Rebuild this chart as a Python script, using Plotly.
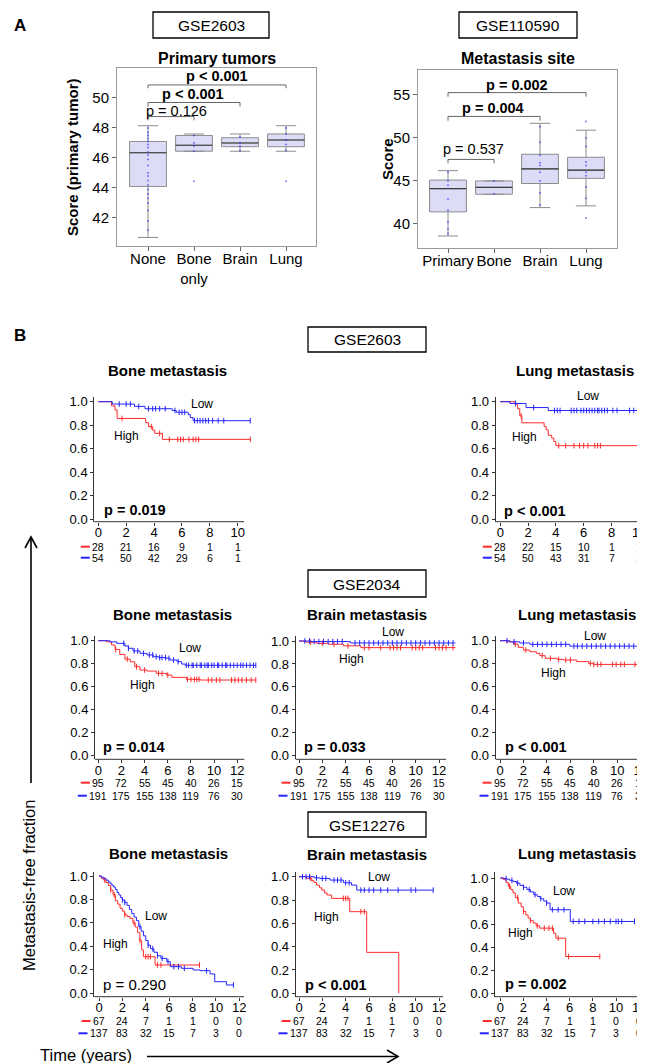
import plotly.graph_objects as go

# The page body adds an 8px margin; the figure is sized so that it fills the 645x1063 window.
OFF = 8
W, H = 645 - OFF, 1063 - OFF
FONT = "Liberation Sans, Arial, Helvetica, sans-serif"
RED = "#ff2a2a"
BLUE = "#2424ff"

# ======================= DATA =======================
# ---- Panel A, left: GSE2603 primary tumors ----
a1_labels = ["None", "Bone<br>only", "Brain", "Lung"]
a1_q1 = [44.1, 46.45, 46.75, 46.75]
a1_median = [46.35, 46.85, 47.0, 47.2]
a1_q3 = [47.1, 47.5, 47.35, 47.6]
a1_low = [40.7, 46.45, 46.45, 46.45]
a1_high = [48.15, 47.6, 47.6, 48.15]
a1_points = [
    [48.0, 47.7, 47.5, 47.3, 47.1, 46.9, 46.7, 46.4, 46.2, 45.9, 45.5, 45.0, 44.8,
     44.5, 44.2, 43.9, 43.6, 43.3, 43.0, 42.5, 41.8, 41.2],
    [47.5, 47.0, 46.8, 46.45, 44.45],
    [47.4, 47.0, 46.8, 46.5],
    [48.0, 47.6, 47.2, 46.9, 46.5, 44.45],
]
a1_tests = [(0, 1, "p = 0.126", False), (0, 2, "p < 0.001", True), (0, 3, "p < 0.001", True)]

# ---- Panel A, right: GSE110590 metastasis site ----
a2_labels = ["Primary", "Bone", "Brain", "Lung"]
a2_q1 = [41.4, 43.45, 44.7, 45.3]
a2_median = [44.1, 44.25, 46.4, 46.25]
a2_q3 = [45.1, 45.0, 48.1, 47.75]
a2_low = [38.6, 43.45, 41.9, 42.1]
a2_high = [46.2, 45.0, 51.7, 50.9]
a2_points = [
    [46.0, 45.0, 44.5, 42.9, 41.6, 40.2, 39.4, 38.9],
    [45.0, 43.5],
    [51.3, 49.5, 48.0, 47.1, 46.8, 46.0, 45.0, 43.6, 42.2],
    [51.9, 50.0, 49.0, 47.2, 46.8, 46.0, 45.6, 44.3, 43.0, 40.7],
]
a2_tests = [(0, 1, "p = 0.537", False), (0, 2, "p = 0.004", True), (0, 3, "p = 0.002", True)]

# ---- Panel B: Kaplan-Meier curves (time in years, metastasis-free fraction) ----
# GSE2603 bone
g2603_bone_low_t = [0, 1.0, 2.6, 3.35, 5.3, 5.6, 6.45, 6.6, 6.8, 10.9]
g2603_bone_low_s = [1.0, 0.98, 0.96, 0.94, 0.925, 0.91, 0.89, 0.865, 0.838, 0.838]
g2603_bone_high_t = [0, 0.95, 1.2, 1.35, 3.4, 3.6, 3.9, 4.05, 4.6, 10.9]
g2603_bone_high_s = [1.0, 0.964, 0.93, 0.857, 0.821, 0.787, 0.757, 0.73, 0.679, 0.679]
g2603_bone_low_cens = [1.5, 2.0, 2.3, 2.9, 3.6, 3.9, 4.1, 4.4, 4.8, 5.5, 5.8, 6.0, 6.2,
                       6.9, 7.1, 7.3, 7.5, 7.7, 7.9, 8.2, 8.6, 9.0, 10.9]
g2603_bone_high_cens = [1.7, 3.8, 4.4, 5.1, 5.7, 5.9, 6.1, 6.5, 6.8, 7.0, 7.2, 10.9]
g2603_bone_risk_high = [28, 21, 16, 9, 1, 1]
g2603_bone_risk_low = [54, 50, 42, 29, 6, 1]

# GSE2603 lung
g2603_lung_low_t = [0, 0.7, 1.85, 3.45, 11.0]
g2603_lung_low_s = [1.0, 0.985, 0.95, 0.925, 0.925]
g2603_lung_high_t = [0, 1.05, 1.25, 1.4, 1.55, 3.15, 3.3, 3.45, 3.7, 3.85, 4.0, 11.0]
g2603_lung_high_s = [1.0, 0.98, 0.94, 0.88, 0.82, 0.79, 0.76, 0.714, 0.69, 0.66, 0.625, 0.625]
g2603_lung_low_cens = [1.1, 2.4, 3.9, 4.1, 4.3, 5.1, 5.3, 5.5, 5.8, 6.0, 6.2, 6.4, 6.6,
                       6.8, 7.0, 7.1, 7.3, 7.5, 7.7, 8.1, 8.4, 9.3, 9.6]
g2603_lung_high_cens = [1.5, 4.2, 4.7, 5.3, 5.7, 6.0, 6.3, 6.8, 7.0, 7.2]
g2603_lung_risk_high = [28, 22, 15, 10, 1, 1]
g2603_lung_risk_low = [54, 50, 43, 31, 7, 1]

# GSE2034 bone
g2034_bone_low_t = [0, 1.0, 1.6, 2.3, 2.6, 3.0, 3.6, 4.2, 4.75, 5.2, 5.9, 6.2, 6.8, 7.2, 7.5, 13.6]
g2034_bone_low_s = [1.0, 0.99, 0.977, 0.954, 0.934, 0.911, 0.89, 0.876, 0.861, 0.853, 0.847,
                    0.832, 0.818, 0.797, 0.786, 0.786]
g2034_bone_high_t = [0, 0.7, 1.15, 1.45, 1.85, 2.3, 2.75, 3.15, 3.6, 4.2, 5.0, 5.9, 6.35, 7.6, 8.8, 13.6]
g2034_bone_high_s = [1.0, 0.99, 0.962, 0.924, 0.881, 0.84, 0.817, 0.774, 0.745, 0.736, 0.716,
                     0.701, 0.681, 0.664, 0.658, 0.658]
g2034_bone_low_cens = [2.2, 2.6, 3.1, 3.4, 3.9, 4.4, 4.7, 5.0, 5.3, 5.5, 5.8, 6.1, 6.5, 6.9, 7.6,
                       7.8, 8.1, 8.2, 8.5, 8.8, 8.9, 9.2, 9.4, 9.5, 9.8, 10.0, 10.3, 10.4, 10.7,
                       11.0, 11.1, 11.4, 11.7, 12.0, 12.3, 12.5, 12.8, 13.1, 13.4, 13.6]
g2034_bone_high_cens = [1.5, 2.5, 3.3, 4.0, 5.2, 5.5, 6.0, 7.7, 8.0, 8.3, 8.5, 8.7, 9.5, 9.8,
                        10.2, 10.5, 11.5, 11.8, 12.1, 12.4, 12.8, 13.2, 13.6]
g2034_risk_high = [95, 72, 55, 45, 40, 26, 15]
g2034_risk_low = [191, 175, 155, 138, 119, 76, 30]

# GSE2034 brain
g2034_brain_low_t = [0, 1.0, 4.4, 13.4]
g2034_brain_low_s = [1.0, 0.995, 0.983, 0.983]
g2034_brain_high_t = [0, 0.6, 1.5, 2.5, 3.8, 5.3, 13.4]
g2034_brain_high_s = [1.0, 0.99, 0.98, 0.972, 0.958, 0.942, 0.942]
g2034_brain_low_cens = [0.5, 0.9, 1.3, 1.7, 2.1, 2.5, 2.9, 3.3, 3.7, 4.8, 5.2, 5.6, 6.0, 6.4,
                        6.8, 7.2, 7.6, 8.0, 8.4, 8.8, 9.2, 9.6, 10.0, 10.4, 10.8, 11.2, 11.6,
                        12.0, 12.4, 12.8, 13.2]
g2034_brain_high_cens = [1.0, 2.0, 3.0, 4.2, 5.6, 6.0, 7.0, 7.8, 8.1, 8.4, 8.7, 9.7, 10.0,
                         10.3, 10.6, 11.7, 12.0, 12.3, 12.6, 13.2]

# GSE2034 lung
g2034_lung_low_t = [0, 0.85, 1.7, 2.55, 5.95, 13.7]
g2034_lung_low_s = [1.0, 0.99, 0.98, 0.968, 0.953, 0.953]
g2034_lung_high_t = [0, 0.55, 1.15, 1.55, 2.0, 2.55, 3.1, 3.4, 3.85, 4.85, 5.4, 6.55, 7.55, 7.95, 13.7]
g2034_lung_high_s = [1.0, 0.99, 0.97, 0.942, 0.919, 0.904, 0.89, 0.87, 0.847, 0.838, 0.832,
                     0.818, 0.803, 0.794, 0.794]
g2034_lung_low_cens = [0.6, 1.2, 2.0, 2.8, 3.2, 3.6, 4.0, 4.4, 4.8, 5.2, 5.6, 6.3, 6.6, 7.0,
                       7.4, 7.8, 8.2, 8.6, 9.0, 9.4, 9.8, 10.2, 10.6, 11.0, 11.4, 11.8, 12.2,
                       12.6, 13.0]
g2034_lung_high_cens = [1.3, 2.2, 3.6, 4.3, 5.0, 5.6, 6.0, 7.7, 8.0, 8.3, 8.6, 9.6, 9.9,
                        10.3, 10.6, 11.5, 11.8, 12.2, 12.6]

# GSE12276 bone
g12276_bone_low_t = [0, 0.2, 0.4, 0.6, 0.8, 0.95, 1.1, 1.25, 1.4, 1.55, 1.7, 1.85, 2.0, 2.2,
                     2.4, 2.6, 2.8, 3.0, 3.2, 3.4, 3.6, 3.8, 4.0, 4.2, 4.4, 4.7, 5.0, 5.3,
                     5.8, 6.1, 7.05, 8.05, 8.65, 9.5, 9.9, 10.9, 11.5]
g12276_bone_low_s = [1.0, 0.99, 0.979, 0.965, 0.95, 0.937, 0.92, 0.905, 0.885, 0.86, 0.838,
                     0.815, 0.795, 0.775, 0.75, 0.715, 0.68, 0.65, 0.62, 0.57, 0.53, 0.49,
                     0.45, 0.41, 0.38, 0.35, 0.32, 0.298, 0.27, 0.227, 0.213, 0.199, 0.193,
                     0.165, 0.099, 0.071, 0.071]
g12276_bone_high_t = [0, 0.2, 0.4, 0.6, 0.8, 1.0, 1.2, 1.4, 1.6, 1.8, 2.0, 2.2, 2.4, 2.65,
                      2.9, 3.1, 3.3, 3.5, 3.65, 3.8, 4.8, 8.6]
g12276_bone_high_s = [1.0, 0.98, 0.965, 0.945, 0.92, 0.88, 0.84, 0.79, 0.76, 0.725, 0.70,
                      0.67, 0.655, 0.639, 0.60, 0.565, 0.52, 0.45, 0.37, 0.312, 0.241, 0.241]
g12276_bone_low_cens = [2.0, 2.2, 3.5, 4.2, 4.6, 5.0, 5.4, 5.9, 6.4, 6.8, 7.3, 9.2, 11.5]
g12276_bone_high_cens = [0.5, 1.0, 1.3, 2.2, 3.0, 3.5, 4.0, 4.2, 4.4, 5.0, 5.3, 8.6]
g12276_risk_high = [67, 24, 7, 1, 1, 0, 0]
g12276_risk_low = [137, 83, 32, 15, 7, 3, 0]

# GSE12276 brain
g12276_brain_low_t = [0, 1.3, 1.8, 2.65, 3.8, 4.5, 4.95, 11.5]
g12276_brain_low_s = [1.0, 0.99, 0.985, 0.971, 0.948, 0.928, 0.885, 0.885]
g12276_brain_high_t = [0, 0.65, 1.1, 1.3, 1.5, 1.75, 1.95, 2.2, 2.4, 2.8, 4.35, 5.8, 8.55]
g12276_brain_high_s = [1.0, 0.985, 0.965, 0.95, 0.928, 0.905, 0.885, 0.86, 0.843, 0.814,
                       0.70, 0.351, 0.0]
g12276_brain_low_cens = [0.3, 0.6, 0.9, 1.5, 2.0, 2.3, 3.0, 3.3, 3.6, 4.0, 4.3, 5.3, 5.6,
                         6.0, 6.4, 7.0, 7.6, 8.5, 9.6, 10.0, 11.5]
g12276_brain_high_cens = [1.0, 3.8, 4.0, 4.2, 5.3, 5.6]

# GSE12276 lung
g12276_lung_low_t = [0, 0.3, 0.55, 0.8, 1.1, 1.4, 1.7, 2.0, 2.3, 2.6, 2.9, 3.2, 3.45, 3.75,
                     4.0, 4.3, 6.05, 11.6]
g12276_lung_low_s = [1.0, 0.995, 0.99, 0.98, 0.97, 0.955, 0.936, 0.92, 0.9, 0.88, 0.855,
                     0.84, 0.82, 0.80, 0.783, 0.725, 0.623, 0.623]
g12276_lung_high_t = [0, 0.25, 0.5, 0.7, 0.9, 1.1, 1.3, 1.55, 1.8, 2.0, 2.2, 2.4, 2.6, 2.85,
                      3.1, 3.4, 4.6, 4.8, 5.65, 8.6]
g12276_lung_high_s = [1.0, 0.986, 0.96, 0.928, 0.9, 0.87, 0.83, 0.783, 0.75, 0.71, 0.68,
                      0.652, 0.63, 0.609, 0.585, 0.565, 0.52, 0.478, 0.319, 0.319]
g12276_lung_low_cens = [0.5, 1.0, 1.5, 2.0, 2.5, 3.0, 3.5, 4.0, 4.5, 5.0, 5.5, 6.3, 6.8, 7.3,
                        8.0, 8.5, 9.0, 9.5, 10.0, 10.2, 10.5, 11.6]
g12276_lung_high_cens = [0.8, 1.5, 2.0, 2.6, 3.2, 3.8, 4.2, 4.5, 5.0, 5.9, 8.6]


# ======================= HELPERS =======================
def fx(p):
    return (p - OFF) / W


def fy(p):
    return 1 - (p - OFF) / H


def step_at(ts, ss, t):
    v = ss[0]
    for ti, si in zip(ts, ss):
        if ti <= t:
            v = si
    return v


fig = go.Figure()
layout = {}
annotations = []
shapes = []


def text(x, y, s, size=12, bold=False, xanchor="center", angle=0, color="black"):
    annotations.append(dict(
        x=fx(x), y=fy(y), xref="paper", yref="paper", showarrow=False,
        text=f"<b>{s}</b>" if bold else s, xanchor=xanchor, yanchor="middle",
        textangle=angle, font=dict(size=size, color=color, family=FONT)))


def box_label(x0, y0, x1, y1, s):
    shapes.append(dict(type="rect", xref="paper", yref="paper", x0=fx(x0), x1=fx(x1),
                       y0=fy(y1), y1=fy(y0), line=dict(color="black", width=1.3)))
    text((x0 + x1) / 2, (y0 + y1) / 2 + 0.5, s, size=15.5)


# ======================= PANEL A =======================
def boxpanel(n, labels, q1, med, q3, lo, hi, pts, tests, geom):
    xa, ya = f"x{n}", f"y{n}"
    fig.add_trace(go.Box(
        x=list(range(len(labels))), q1=q1, median=med, q3=q3, lowerfence=lo, upperfence=hi,
        width=0.8, whiskerwidth=0.55, fillcolor="rgba(205,205,242,0.7)",
        line=dict(color="#8c8c8c", width=1), boxpoints=False, xaxis=xa, yaxis=ya,
        hoverinfo="skip", showlegend=False))
    mx, my = [], []
    for i, m in enumerate(med):
        mx += [i - 0.4, i + 0.4, None]
        my += [m, m, None]
    fig.add_trace(go.Scatter(x=mx, y=my, mode="lines", line=dict(color="#3a3a3a", width=1.2),
                             xaxis=xa, yaxis=ya, hoverinfo="skip", showlegend=False))
    px_, py_ = [], []
    for i, vals in enumerate(pts):
        px_ += [i] * len(vals)
        py_ += vals
    fig.add_trace(go.Scatter(x=px_, y=py_, mode="markers",
                             marker=dict(size=2, color="rgba(40,40,255,0.6)"),
                             xaxis=xa, yaxis=ya, hoverinfo="skip", showlegend=False))
    bx, by = [], []
    for (i, j, s, b), (yb, drop, ly, lx) in zip(tests, geom["brackets"]):
        bx += [i, i, j, j, None]
        by += [yb - drop, yb, yb, yb - drop, None]
        annotations.append(dict(x=lx, y=ly, xref=xa, yref=ya, showarrow=False,
                                text=f"<b>{s}</b>" if b else s,
                                font=dict(size=14.5, color="black", family=FONT)))
    fig.add_trace(go.Scatter(x=bx, y=by, mode="lines", line=dict(color="#666666", width=1),
                             xaxis=xa, yaxis=ya, hoverinfo="skip", showlegend=False))
    l, r, t, b_ = geom["dom"]
    x0, sp = geom["x0"], 46.0
    layout[f"xaxis{n}"] = dict(
        domain=[fx(l), fx(r)], range=[(l - x0) / sp, (r - x0) / sp], anchor=ya,
        tickvals=list(range(len(labels))), ticktext=labels, ticks="outside", ticklen=4,
        tickcolor="#666", showline=True, mirror=True, linecolor="#9a9a9a", linewidth=1,
        showgrid=False, zeroline=False, tickfont=dict(size=15, family=FONT, color="black"),
        ticklabelstandoff=-5, automargin=False)
    layout[f"yaxis{n}"] = dict(
        domain=[fy(b_), fy(t)], range=geom["yr"], anchor=xa, tickvals=geom["yt"],
        ticks="outside", ticklen=4, tickcolor="#666", showline=True, mirror=True,
        linecolor="#9a9a9a", linewidth=1, showgrid=False, zeroline=False,
        tickfont=dict(size=15, family=FONT, color="black"), automargin=False)


boxpanel(1, a1_labels, a1_q1, a1_median, a1_q3, a1_low, a1_high, a1_points, a1_tests,
         dict(dom=(117, 316, 68, 246), x0=148, yr=[40.13, 52.0], yt=[42, 44, 46, 48, 50],
              brackets=[(48.76, 0.25, 49.1, 0.62), (49.7, 0.28, 50.28, 0.98),
                        (50.87, 0.22, 51.45, 1.51)]))
boxpanel(2, a2_labels, a2_q1, a2_median, a2_q3, a2_low, a2_high, a2_points, a2_tests,
         dict(dom=(418, 617, 70, 248), x0=448, yr=[37.2, 57.9], yt=[40, 45, 50, 55],
              brackets=[(47.5, 0.45, 48.7, 0.55), (52.5, 0.5, 53.5, 0.98),
                        (55.27, 0.47, 56.2, 1.5)]))

text(20, 25, "A", size=17, bold=True)
box_label(153, 12, 269, 38, "GSE2603")
box_label(459, 12, 577, 38, "GSE110590")
text(217, 58, "Primary tumors", size=16, bold=True)
text(518, 58, "Metastasis site", size=16, bold=True)
text(72, 157, "Score (primary tumor)", size=15, bold=True, angle=-90)
text(387, 159, "Score", size=15, bold=True, angle=-90)

# ======================= PANEL B =======================
panels = [
    dict(title="Bone metastasis", tpos=(167, 370), low_t=g2603_bone_low_t, low_s=g2603_bone_low_s,
         high_t=g2603_bone_high_t, high_s=g2603_bone_high_s, low_c=g2603_bone_low_cens,
         high_c=g2603_bone_high_cens, rh=g2603_bone_risk_high, rl=g2603_bone_risk_low,
         p="p = 0.019", pbold=True, ppos=(101.7, 510), lowpos=(201.7, 404), highpos=(126.7, 435.7),
         g=dict(left=94.3, x0=98.3, ppy=13.94, right=252, axend=244, top=397, y1=401.7,
                y0=519, bottom=521.7, rr=546.7, rb=557.7), ticks=[0, 2, 4, 6, 8, 10]),
    dict(title="Lung metastasis", tpos=(575, 370), low_t=g2603_lung_low_t, low_s=g2603_lung_low_s,
         high_t=g2603_lung_high_t, high_s=g2603_lung_high_s, low_c=g2603_lung_low_cens,
         high_c=g2603_lung_high_cens, rh=g2603_lung_risk_high, rl=g2603_lung_risk_low,
         p="p < 0.001", pbold=True, ppos=(502, 510.7), lowpos=(588, 396), highpos=(524, 436.7),
         g=dict(left=495.7, x0=500.3, ppy=13.9, right=645, axend=645, top=397, y1=401.7,
                y0=519, bottom=521.7, rr=546.7, rb=557.7), ticks=[0, 2, 4, 6, 8, 10]),
    dict(title="Bone metastasis", tpos=(173, 615), low_t=g2034_bone_low_t, low_s=g2034_bone_low_s,
         high_t=g2034_bone_high_t, high_s=g2034_bone_high_s, low_c=g2034_bone_low_cens,
         high_c=g2034_bone_high_cens, rh=g2034_risk_high, rl=g2034_risk_low,
         p="p = 0.014", pbold=True, ppos=(100.7, 747.3), lowpos=(190, 648.3), highpos=(142.3, 685),
         g=dict(left=95, x0=98.3, ppy=11.58, right=257, axend=244.3, top=636, y1=640.7,
                y0=755.7, bottom=759.3, rr=782.7, rb=795.7), ticks=[0, 2, 4, 6, 8, 10, 12]),
    dict(title="Brain metastasis", tpos=(367, 615), low_t=g2034_brain_low_t,
         low_s=g2034_brain_low_s, high_t=g2034_brain_high_t, high_s=g2034_brain_high_s,
         low_c=g2034_brain_low_cens, high_c=g2034_brain_high_cens, rh=g2034_risk_high,
         rl=g2034_risk_low, p="p = 0.033", pbold=True, ppos=(301.7, 746.7), lowpos=(393, 632.3),
         highpos=(351.7, 659),
         g=dict(left=295.7, x0=299, ppy=11.67, right=457, axend=446, top=636, y1=641,
                y0=755.7, bottom=759.3, rr=782.7, rb=795.7), ticks=[0, 2, 4, 6, 8, 10, 12]),
    dict(title="Lung metastasis", tpos=(577, 615), low_t=g2034_lung_low_t, low_s=g2034_lung_low_s,
         high_t=g2034_lung_high_t, high_s=g2034_lung_high_s, low_c=g2034_lung_low_cens,
         high_c=g2034_lung_high_cens, rh=g2034_risk_high, rl=g2034_risk_low,
         p="p < 0.001", pbold=True, ppos=(503.3, 746.7), lowpos=(595, 635.7), highpos=(553.3, 673.3),
         g=dict(left=495.7, x0=500, ppy=11.73, right=645, axend=645, top=636, y1=640.7,
                y0=755.7, bottom=759.3, rr=782.7, rb=795.7), ticks=[0, 2, 4, 6, 8, 10, 12]),
    dict(title="Bone metastasis", tpos=(168, 853), low_t=g12276_bone_low_t,
         low_s=g12276_bone_low_s, high_t=g12276_bone_high_t, high_s=g12276_bone_high_s,
         low_c=g12276_bone_low_cens, high_c=g12276_bone_high_cens, rh=g12276_risk_high,
         rl=g12276_risk_low, p="p = 0.290", pbold=False, ppos=(101, 984.3), lowpos=(155.7, 915.7),
         highpos=(115, 944),
         g=dict(left=94.3, x0=99, ppy=11.69, right=246, axend=244, top=872, y1=876,
                y0=993.3, bottom=996.7, rr=1021, rb=1033.3), ticks=[0, 2, 4, 6, 8, 10, 12]),
    dict(title="Brain metastasis", tpos=(367, 854), low_t=g12276_brain_low_t,
         low_s=g12276_brain_low_s, high_t=g12276_brain_high_t, high_s=g12276_brain_high_s,
         low_c=g12276_brain_low_cens, high_c=g12276_brain_high_cens, rh=g12276_risk_high,
         rl=g12276_risk_low, p="p < 0.001", pbold=True, ppos=(302.7, 985), lowpos=(379.3, 877.3),
         highpos=(326, 916.7),
         g=dict(left=295.7, x0=299, ppy=11.67, right=446, axend=443, top=872, y1=876.7,
                y0=993.3, bottom=996.7, rr=1021, rb=1033.3), ticks=[0, 2, 4, 6, 8, 10, 12]),
    dict(title="Lung metastasis", tpos=(577, 853), low_t=g12276_lung_low_t,
         low_s=g12276_lung_low_s, high_t=g12276_lung_high_t, high_s=g12276_lung_high_s,
         low_c=g12276_lung_low_cens, high_c=g12276_lung_high_cens, rh=g12276_risk_high,
         rl=g12276_risk_low, p="p = 0.002", pbold=True, ppos=(503.3, 984.3), lowpos=(564.3, 890.7),
         highpos=(520, 933.3),
         g=dict(left=495, x0=500.3, ppy=11.57, right=645, axend=645, top=872, y1=878,
                y0=993.3, bottom=996.7, rr=1021, rb=1033.3), ticks=[0, 2, 4, 6, 8, 10, 12]),
]

for k, P in enumerate(panels):
    n = k + 3
    xa, ya = f"x{n}", f"y{n}"
    g = P["g"]
    ppu = g["y0"] - g["y1"]
    for t_, s_, c_, col in ((P["high_t"], P["high_s"], P["high_c"], RED),
                            (P["low_t"], P["low_s"], P["low_c"], BLUE)):
        fig.add_trace(go.Scatter(x=t_, y=s_, mode="lines", line=dict(shape="hv", color=col, width=1),
                                 xaxis=xa, yaxis=ya, hoverinfo="skip", showlegend=False))
        fig.add_trace(go.Scatter(x=c_, y=[step_at(t_, s_, c) for c in c_], mode="markers",
                                 marker=dict(symbol="line-ns", size=4, color=col,
                                             line=dict(color=col, width=1)),
                                 xaxis=xa, yaxis=ya, hoverinfo="skip", showlegend=False))
    layout[f"xaxis{n}"] = dict(
        domain=[fx(g["left"]), min(1.0, fx(g["right"]))],
        range=[(g["left"] - g["x0"]) / g["ppy"], (g["right"] - g["x0"]) / g["ppy"]],
        anchor=ya, tickvals=P["ticks"], ticks="outside", ticklen=3, tickcolor="#333",
        showline=False, showgrid=False, zeroline=False, automargin=False,
        ticklabelstandoff=-4, ticklabeloverflow="allow",
        tickfont=dict(size=13, family=FONT, color="black"))
    layout[f"yaxis{n}"] = dict(
        domain=[fy(g["bottom"]), fy(g["top"])],
        range=[-(g["bottom"] - g["y0"]) / ppu, (g["y0"] - g["top"]) / ppu],
        anchor=xa, tickvals=[0, 0.2, 0.4, 0.6, 0.8, 1.0], tickformat=".1f", ticks="outside",
        ticklen=3, tickcolor="#333", showline=True, linecolor="#333", linewidth=1,
        showgrid=False, zeroline=False, automargin=False,
        tickfont=dict(size=13, family=FONT, color="black"))
    shapes.append(dict(type="line", xref="paper", yref="paper", x0=fx(g["left"]),
                       x1=min(1.0, fx(g["axend"])), y0=fy(g["bottom"]), y1=fy(g["bottom"]),
                       line=dict(color="#333", width=1)))
    text(P["tpos"][0], P["tpos"][1], P["title"], size=15, bold=True)
    text(P["lowpos"][0], P["lowpos"][1], "Low", size=12)
    text(P["highpos"][0], P["highpos"][1], "High", size=12)
    text(P["ppos"][0], P["ppos"][1], P["p"], size=15 if not P["pbold"] else 14.5,
         bold=P["pbold"], xanchor="left")
    for vals, yrow, col in ((P["rh"], g["rr"], RED), (P["rl"], g["rb"], BLUE)):
        for t_, v in zip(P["ticks"], vals):
            annotations.append(dict(x=t_, y=fy(yrow), xref=xa, yref="paper", showarrow=False,
                                    text=str(v), xanchor="center", yanchor="middle",
                                    font=dict(size=10.5, family=FONT, color="black")))
        nd = len(str(vals[0]))
        xe = g["x0"] - (nd * 3.0 + 2.5)
        shapes.append(dict(type="line", xref="paper", yref="paper", x0=fx(xe - 9), x1=fx(xe),
                           y0=fy(yrow), y1=fy(yrow), line=dict(color=col, width=2)))

text(20, 335, "B", size=17, bold=True)
box_label(308, 327, 426, 352, "GSE2603")
box_label(308, 570, 426, 597, "GSE2034")
box_label(308, 812, 426, 837, "GSE12276")

# axis arrows and labels
for pth in (f"M {fx(31)},{fy(783)} L {fx(31)},{fy(537)}",
            f"M {fx(25)},{fy(548)} L {fx(31)},{fy(537)} L {fx(37)},{fy(548)}",
            f"M {fx(147)},{fy(1056.5)} L {fx(398)},{fy(1056.5)}",
            f"M {fx(387)},{fy(1050)} L {fx(398)},{fy(1056.5)} L {fx(387)},{fy(1063)}"):
    shapes.append(dict(type="path", xref="paper", yref="paper",
                       line=dict(color="black", width=1.6), path=pth))
text(29, 886, "Metastasis-free fraction", size=16.5, angle=-90)
text(86, 1055, "Time (years)", size=16.5)

fig.update_layout(
    width=W, height=H, margin=dict(l=0, r=0, t=0, b=0), autosize=False,
    paper_bgcolor="white", plot_bgcolor="white", showlegend=False,
    font=dict(family=FONT, color="black"),
    annotations=annotations, shapes=shapes, **layout)

fig.write_html("out.html")
